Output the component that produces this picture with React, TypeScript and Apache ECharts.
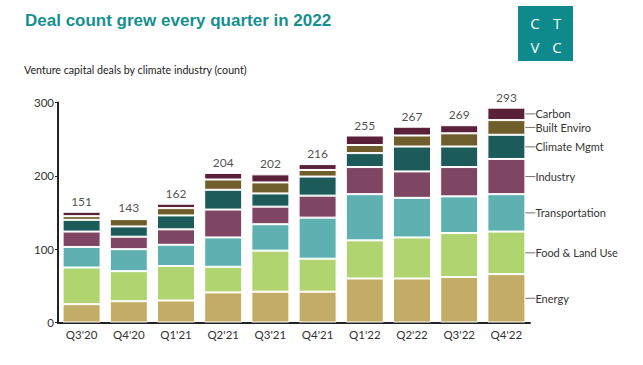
import React, { useEffect, useRef } from "react";
import * as echarts from "echarts";

const categories = ["Q3'20", "Q4'20", "Q1'21", "Q2'21", "Q3'21", "Q4'21", "Q1'22", "Q2'22", "Q3'22", "Q4'22"];
const energy = [25, 29, 30, 41, 42, 42, 60, 60, 62, 66];
const foodLand = [50, 41, 47, 35, 56, 45, 52, 56, 60, 58];
const transportation = [28, 30, 29, 40, 36, 56, 63, 54, 50, 51];
const industry = [21, 17, 21, 38, 24, 30, 37, 36, 40, 48];
const climateMgmt = [16, 14, 19, 27, 18, 26, 19, 34, 28, 33];
const builtEnviro = [5, 10, 10, 14, 15, 9, 11, 15, 18, 20];
const carbon = [6, 0, 6, 9, 11, 8, 13, 12, 11, 17];
const totals = [151, 143, 162, 204, 202, 216, 255, 267, 269, 293];
const yTicks = [0, 100, 200, 300];

const seriesDefs = [
  { name: "Energy", data: energy, color: "#c3ad66" },
  { name: "Food & Land Use", data: foodLand, color: "#b0d46f" },
  { name: "Transportation", data: transportation, color: "#5fb0b1" },
  { name: "Industry", data: industry, color: "#7e4663" },
  { name: "Climate Mgmt", data: climateMgmt, color: "#1d5b5a" },
  { name: "Built Enviro", data: builtEnviro, color: "#6f5e2b" },
  { name: "Carbon", data: carbon, color: "#5a2039" },
];

const FONT = "Lato, 'Open Sans', sans-serif";

export default function App() {
  const ref = useRef<HTMLDivElement>(null);
  useEffect(() => {
    if (!ref.current) return;
    const chart = echarts.init(ref.current, null, { renderer: "svg" });
    const last = categories.length - 1;
    const bars = seriesDefs.map((s) => ({
      name: s.name,
      type: "bar",
      stack: "deals",
      barWidth: 38,
      itemStyle: { color: s.color, borderColor: "#ffffff", borderWidth: 1 },
      data: s.data.map((v, i) =>
        i === last
          ? {
              value: v,
              label: {
                show: true,
                position: "right",
                distance: 0,
                formatter: "{l|}{t|" + s.name + "}",
                rich: {
                  l: { width: 10, height: 1, backgroundColor: "#707070" },
                  t: { fontFamily: FONT, fontSize: 11, color: "#333333" },
                },
              },
            }
          : v
      ),
    }));
    chart.setOption({
      animation: false,
      grid: { left: 58, right: 113, top: 102.5, bottom: 42.5, containLabel: false },
      xAxis: {
        type: "category",
        data: categories,
        axisLine: { lineStyle: { color: "#222222", width: 2 } },
        axisTick: { show: false },
        axisLabel: { fontFamily: FONT, fontSize: 11.5, color: "#333333", margin: 6 },
      },
      yAxis: {
        type: "value",
        min: 0,
        max: 300,
        interval: 100,
        axisLine: { show: true, lineStyle: { color: "#222222", width: 2 } },
        axisTick: { show: true, length: 3, lineStyle: { color: "#222222", width: 1 } },
        splitLine: { show: false },
        axisLabel: {
          fontFamily: FONT,
          fontSize: 11.5,
          color: "#333333",
          margin: 4,
          formatter: (v: number) => (yTicks.includes(v) ? String(v) : ""),
        },
      },
      series: [
        ...bars,
        {
          name: "Total",
          type: "scatter",
          symbolSize: 1,
          itemStyle: { color: "rgba(0,0,0,0)" },
          label: {
            show: true,
            position: "top",
            distance: 4,
            fontFamily: FONT,
            fontSize: 12,
            color: "#222222",
            formatter: (p: any) => String(p.value),
          },
          data: totals,
        },
      ],
      graphic: [
        {
          type: "text",
          x: 25,
          y: 12,
          style: {
            text: "Deal count grew every quarter in 2022",
            fontFamily: "'Liberation Sans', Arial, sans-serif",
            fontWeight: "bold",
            fontSize: 17,
            fill: "#15908f",
          },
        },
        {
          type: "text",
          x: 24,
          y: 64,
          scaleX: 0.97,
          style: {
            text: "Venture capital deals by climate industry (count)",
            fontFamily: FONT,
            fontSize: 11,
            fill: "#222222",
          },
        },
        {
          type: "rect",
          shape: { x: 518, y: 6, width: 55, height: 55 },
          style: { fill: "#0e8a8c" },
        },
        {
          type: "text",
          x: 535,
          y: 23,
          style: { text: "C", fontFamily: "'Open Sans', sans-serif", fontSize: 15, fill: "#ffffff", align: "center", verticalAlign: "middle" },
        },
        {
          type: "text",
          x: 557,
          y: 23,
          style: { text: "T", fontFamily: "'Open Sans', sans-serif", fontSize: 15, fill: "#ffffff", align: "center", verticalAlign: "middle" },
        },
        {
          type: "text",
          x: 535,
          y: 47,
          style: { text: "V", fontFamily: "'Open Sans', sans-serif", fontSize: 15, fill: "#ffffff", align: "center", verticalAlign: "middle" },
        },
        {
          type: "text",
          x: 557,
          y: 47,
          style: { text: "C", fontFamily: "'Open Sans', sans-serif", fontSize: 15, fill: "#ffffff", align: "center", verticalAlign: "middle" },
        },
      ],
    });
    return () => chart.dispose();
  }, []);
  return (
    <div
      ref={ref}
      style={{ position: "fixed", left: 0, top: 0, width: 643, height: 365, background: "#ffffff" }}
    />
  );
}
